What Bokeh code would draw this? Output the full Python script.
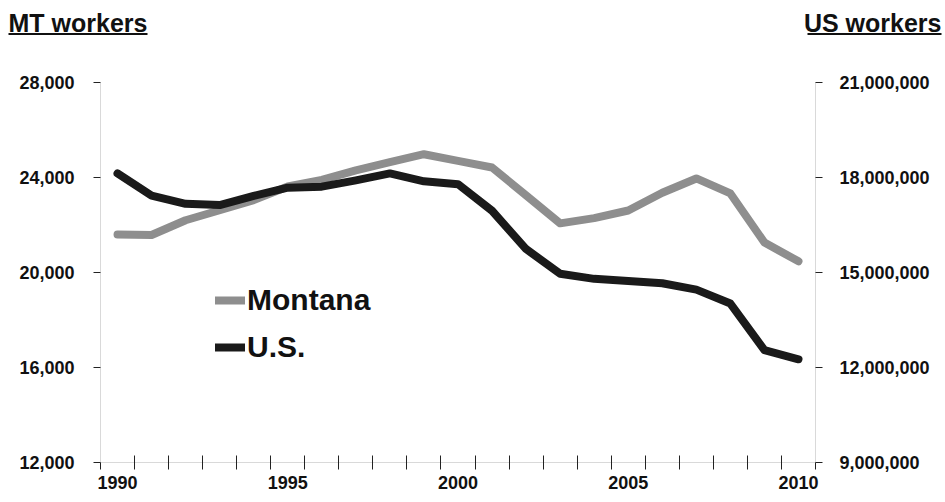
from bokeh.plotting import figure
from bokeh.layouts import column
from bokeh.models import (Range1d, LinearAxis, FixedTicker, NumeralTickFormatter,
                          PrintfTickFormatter, Legend, LegendItem)
from bokeh.core.properties import value
from bokeh.embed import file_html
from bokeh.resources import INLINE

years = list(range(1990, 2011))
montana = [21600, 21580, 22200, 22620, 23050, 23620, 23900, 24300, 24650, 24980,
           24700, 24420, 23250, 22070, 22290, 22610, 23360, 23960, 23330, 21260, 20470]
us = [18130000, 17430000, 17170000, 17130000, 17420000, 17680000, 17710000, 17910000,
      18130000, 17880000, 17790000, 16950000, 15740000, 14960000, 14800000, 14730000,
      14660000, 14460000, 14020000, 12550000, 12260000]
year_ticks = [1990, 1995, 2000, 2005, 2010]
mt_ticks = [12000, 16000, 20000, 24000, 28000]
us_ticks = [9000000, 12000000, 15000000, 18000000, 21000000]
titles = ["MT workers", "US workers"]

W, H = 945, 502
TH = 40  # header height
FL, FR, FT, FB = 100, 815, 82 - TH, 462 - TH
PH = H - TH

# ---- header with axis titles ----
hdr = figure(width=W, height=TH, output_backend="svg", toolbar_location=None,
             x_range=Range1d(0, W), y_range=Range1d(TH, 0),
             min_border=0, x_axis_type=None, y_axis_type=None)
hdr.frame_align = False
hdr.outline_line_color = None
hdr.grid.visible = False
hdr.text(x=[8], y=[22.5], text=[titles[0]], text_font=value("Liberation Sans"),
         text_font_style="bold", text_font_size="25px", text_baseline="middle",
         text_align="left", text_color="#111111")
hdr.text(x=[941], y=[22.5], text=[titles[1]], text_font=value("Liberation Sans"),
         text_font_style="bold", text_font_size="25px", text_baseline="middle",
         text_align="right", text_color="#111111")
hdr.segment(x0=[8, 807], y0=[33.5, 33.5], x1=[147, 941], y1=[33.5, 33.5],
            line_color="#111111", line_width=2)

# ---- main chart ----
p = figure(width=W, height=PH, output_backend="svg", toolbar_location=None,
           x_range=Range1d(1989.5, 2010.5), y_range=Range1d(12000, 28000),
           min_border_left=FL, min_border_right=W - FR, min_border_top=FT,
           min_border_bottom=PH - FB, x_axis_type=None, y_axis_type=None)
p.frame_align = False
p.outline_line_color = None
p.background_fill_color = "white"
p.border_fill_color = "white"
p.extra_y_ranges = {"us": Range1d(9000000, 21000000)}

TICKFONT = "Liberation Sans"
TICKSIZE = "18px"
AXCOL = "#d9d9d9"

xaxis = LinearAxis(ticker=FixedTicker(ticks=year_ticks,
                                      minor_ticks=[y - 0.5 for y in years] + [years[-1] + 0.5]),
                   formatter=PrintfTickFormatter(format="%d"))
xaxis.axis_line_color = AXCOL
xaxis.major_tick_line_color = None
xaxis.major_tick_out = 6
xaxis.major_tick_in = 0
xaxis.minor_tick_line_color = "#222222"
xaxis.minor_tick_in = 7
xaxis.minor_tick_out = 7
xaxis.major_label_standoff = 6
xaxis.major_label_text_font = TICKFONT
xaxis.major_label_text_font_style = "bold"
xaxis.major_label_text_font_size = TICKSIZE
xaxis.major_label_text_color = "#111111"
p.add_layout(xaxis, "below")

yaxis = LinearAxis(ticker=FixedTicker(ticks=mt_ticks), formatter=NumeralTickFormatter(format="0,0"))
yaxis.axis_line_color = AXCOL
yaxis.major_tick_line_color = "#222222"
yaxis.major_tick_out = 7
yaxis.major_tick_in = 0
yaxis.minor_tick_line_color = None
yaxis.major_label_standoff = 19
yaxis.major_label_text_font = TICKFONT
yaxis.major_label_text_font_style = "bold"
yaxis.major_label_text_font_size = TICKSIZE
yaxis.major_label_text_color = "#111111"
p.add_layout(yaxis, "left")

raxis = LinearAxis(y_range_name="us", ticker=FixedTicker(ticks=us_ticks),
                   formatter=NumeralTickFormatter(format="0,0"))
raxis.axis_line_color = AXCOL
raxis.major_tick_line_color = "#222222"
raxis.major_tick_out = 7
raxis.major_tick_in = 0
raxis.minor_tick_line_color = None
raxis.major_label_standoff = 17
raxis.major_label_text_font = TICKFONT
raxis.major_label_text_font_style = "bold"
raxis.major_label_text_font_size = TICKSIZE
raxis.major_label_text_color = "#111111"
p.add_layout(raxis, "right")

p.ygrid.ticker = FixedTicker(ticks=[16000, 20000, 24000, 28000])
p.ygrid.grid_line_color = "#333333"
p.ygrid.grid_line_width = 1
p.xgrid.visible = False

r_mt = p.line(years, montana, line_color="#8e8e8e", line_width=8,
              line_join="round", line_cap="round")
r_us = p.line(years, us, y_range_name="us", line_color="#1a1a1a", line_width=8,
              line_join="round", line_cap="round")

legend = Legend(items=[LegendItem(label="Montana", renderers=[r_mt]),
                       LegendItem(label="U.S.", renderers=[r_us])],
                location=(115, 95), orientation="vertical")
legend.padding = 0
legend.margin = 0
legend.spacing = 7
legend.border_line_color = None
legend.background_fill_alpha = 0
legend.glyph_width = 30
legend.glyph_height = 40
legend.label_height = 40
legend.label_standoff = 2
legend.label_text_font = "Liberation Sans"
legend.label_text_font_style = "bold"
legend.label_text_font_size = "30px"
legend.label_text_color = "#111111"
p.add_layout(legend, "center")

layout = column(hdr, p, spacing=0)
open("out.html", "w").write(file_html(layout, INLINE))
